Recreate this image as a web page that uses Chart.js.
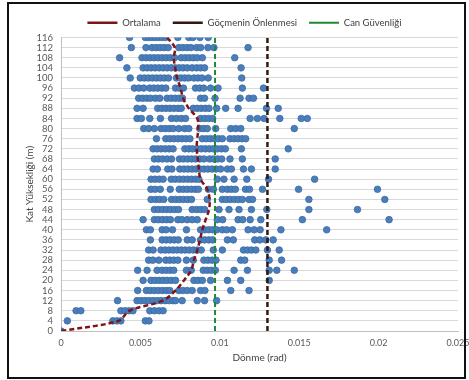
<!DOCTYPE html>
<html lang="tr">
<head>
<meta charset="UTF-8">
<title>Kat Yüksekliği - Dönme</title>
<style>
  body { margin: 0; background: #fff; }
  #wrap { width: 469px; height: 380px; }
</style>
</head>
<body>
<div id="wrap"><canvas id="myChart"></canvas></div>

<script src="https://cdn.jsdelivr.net/npm/chart.js@4.4.1/dist/chart.umd.min.js"></script>
<script>
// floor heights (m), top to bottom
const heights = [116, 112, 108, 104, 100, 96, 92, 88, 84, 80, 76, 72, 68, 64, 60,
                 56, 52, 48, 44, 40, 36, 32, 28, 24, 20, 16, 12, 8, 4, 0];

// rotation of each record at each height (rad), same order as heights
const rotations = [
  [0.00432, 0.00531, 0.00552, 0.00573, 0.00594, 0.00616, 0.00637, 0.00658, 0.00736, 0.00805, 0.00830, 0.00875, 0.00927],
  [0.00443, 0.00535, 0.00573, 0.00599, 0.00624, 0.00649, 0.00675, 0.00742, 0.00767, 0.00793, 0.00818, 0.00854, 0.00879, 0.00925, 0.00963, 0.01178],
  [0.00369, 0.00510, 0.00535, 0.00561, 0.00586, 0.00611, 0.00637, 0.00662, 0.00687, 0.00715, 0.00757, 0.00782, 0.00807, 0.00833, 0.00858, 0.00890, 0.01094],
  [0.00415, 0.00517, 0.00542, 0.00567, 0.00592, 0.00618, 0.00643, 0.00668, 0.00694, 0.00719, 0.00744, 0.00769, 0.00795, 0.00826, 0.00854, 0.00879, 0.00904, 0.01134],
  [0.00436, 0.00499, 0.00525, 0.00550, 0.00576, 0.00601, 0.00626, 0.00651, 0.00677, 0.00727, 0.00753, 0.00778, 0.00803, 0.00837, 0.00862, 0.00887, 0.00927, 0.01138],
  [0.00462, 0.00491, 0.00521, 0.00559, 0.00584, 0.00609, 0.00635, 0.00660, 0.00721, 0.00746, 0.00771, 0.00847, 0.00873, 0.00898, 0.00942, 0.00989, 0.01142, 0.01275],
  [0.00489, 0.00514, 0.00540, 0.00563, 0.00595, 0.00622, 0.00668, 0.00694, 0.00719, 0.00744, 0.00765, 0.00879, 0.00904, 0.00970, 0.01128, 0.01184, 0.01212],
  [0.00479, 0.00517, 0.00609, 0.00635, 0.00660, 0.00685, 0.00710, 0.00736, 0.00757, 0.00833, 0.00858, 0.00883, 0.00909, 0.00932, 0.00980, 0.01037, 0.01115, 0.01294, 0.01368],
  [0.00479, 0.00506, 0.00559, 0.00626, 0.00696, 0.00727, 0.00757, 0.00784, 0.00879, 0.00904, 0.00930, 0.00955, 0.01191, 0.01237, 0.01279, 0.01378, 0.01513, 0.01551],
  [0.00521, 0.00552, 0.00588, 0.00630, 0.00656, 0.00681, 0.00706, 0.00742, 0.00778, 0.00805, 0.00873, 0.00898, 0.00921, 0.00974, 0.01069, 0.01100, 0.01132, 0.01469],
  [0.00601, 0.00660, 0.00685, 0.00710, 0.00736, 0.00761, 0.00786, 0.00812, 0.00890, 0.00915, 0.00940, 0.00965, 0.00991, 0.01016, 0.01064, 0.01090, 0.01115, 0.01140, 0.01163],
  [0.00580, 0.00605, 0.00630, 0.00656, 0.00681, 0.00706, 0.00780, 0.00805, 0.00828, 0.00858, 0.00883, 0.00909, 0.00934, 0.00959, 0.00984, 0.01010, 0.01035, 0.01136, 0.01431],
  [0.00588, 0.00613, 0.00639, 0.00668, 0.00696, 0.00746, 0.00771, 0.00797, 0.00822, 0.00847, 0.00873, 0.00900, 0.00936, 0.00961, 0.00986, 0.01012, 0.01064, 0.01142, 0.01349],
  [0.00580, 0.00607, 0.00672, 0.00698, 0.00748, 0.00774, 0.00799, 0.00824, 0.00849, 0.00875, 0.00900, 0.00925, 0.00951, 0.00976, 0.01005, 0.01048, 0.01073, 0.01149, 0.01199, 0.01349],
  [0.00567, 0.00592, 0.00618, 0.00643, 0.00694, 0.00719, 0.00746, 0.00771, 0.00797, 0.00822, 0.00847, 0.00868, 0.00984, 0.01026, 0.01090, 0.01170, 0.01307, 0.01597],
  [0.00566, 0.00593, 0.00625, 0.00688, 0.00745, 0.00770, 0.00795, 0.00821, 0.00846, 0.00865, 0.00928, 0.00960, 0.01016, 0.01048, 0.01073, 0.01098, 0.01162, 0.01187, 0.01269, 0.01496, 0.01993],
  [0.00567, 0.00595, 0.00620, 0.00647, 0.00696, 0.00721, 0.00746, 0.00771, 0.00797, 0.00822, 0.00921, 0.01016, 0.01041, 0.01066, 0.01092, 0.01117, 0.01142, 0.01184, 0.01206, 0.01561, 0.02039],
  [0.00588, 0.00613, 0.00639, 0.00664, 0.00689, 0.00715, 0.00740, 0.00826, 0.00854, 0.00879, 0.00904, 0.00995, 0.01058, 0.01121, 0.01199, 0.01296, 0.01561, 0.01867],
  [0.00517, 0.00588, 0.00613, 0.00639, 0.00664, 0.00689, 0.00736, 0.00761, 0.00795, 0.00826, 0.00858, 0.00984, 0.01018, 0.01115, 0.01144, 0.01191, 0.01258, 0.01520, 0.02066],
  [0.00538, 0.00563, 0.00637, 0.00662, 0.00702, 0.00790, 0.00879, 0.00904, 0.00930, 0.00955, 0.00980, 0.01016, 0.01043, 0.01079, 0.01178, 0.01216, 0.01254, 0.01385, 0.01673],
  [0.00563, 0.00637, 0.00662, 0.00687, 0.00713, 0.00738, 0.00795, 0.00826, 0.00879, 0.00904, 0.00930, 0.00955, 0.01048, 0.01085, 0.01220, 0.01252, 0.01290, 0.01336],
  [0.00552, 0.00580, 0.00630, 0.00656, 0.00681, 0.00706, 0.00731, 0.00757, 0.00782, 0.00807, 0.00833, 0.00858, 0.00883, 0.00959, 0.01016, 0.01149, 0.01174, 0.01199, 0.01227, 0.01300, 0.01374],
  [0.00552, 0.00578, 0.00616, 0.00660, 0.00685, 0.00710, 0.00736, 0.00790, 0.00833, 0.00900, 0.00925, 0.00951, 0.00976, 0.01132, 0.01157, 0.01311, 0.01389],
  [0.00483, 0.00542, 0.00605, 0.00637, 0.00662, 0.00687, 0.00710, 0.00790, 0.00820, 0.00896, 0.00921, 0.00946, 0.00972, 0.01090, 0.01174, 0.01311, 0.01359, 0.01469],
  [0.00517, 0.00567, 0.00592, 0.00618, 0.00643, 0.00668, 0.00694, 0.00721, 0.00837, 0.00862, 0.00890, 0.00942, 0.01048, 0.01132, 0.01311],
  [0.00483, 0.00538, 0.00563, 0.00588, 0.00613, 0.00639, 0.00664, 0.00685, 0.00742, 0.00767, 0.00795, 0.00826, 0.00879, 0.00906, 0.01069, 0.01184],
  [0.00356, 0.00479, 0.00504, 0.00529, 0.00554, 0.00580, 0.00605, 0.00630, 0.00656, 0.00681, 0.00706, 0.00721, 0.00763, 0.00858, 0.00904, 0.00980],
  [0.00095, 0.00125, 0.00377, 0.00403, 0.00428, 0.00453, 0.00559, 0.00588, 0.00618, 0.00643],
  [0.00040, 0.00327, 0.00352, 0.00377, 0.00531, 0.00554],
  [0]
];

// "Ortalama" (mean) curve, same order as heights
const meanRotation = [0.00668, 0.00717, 0.00710, 0.00719, 0.00731, 0.00753, 0.00769, 0.00805,
                      0.00858, 0.00864, 0.00858, 0.00854, 0.00862, 0.00868, 0.00879, 0.00921,
                      0.00936, 0.00932, 0.00911, 0.00890, 0.00875, 0.00858, 0.00837, 0.00820,
                      0.00774, 0.00721, 0.00640, 0.00430, 0.00363, 0];

const collapseLimit = 0.013;    // Göçmenin Önlenmesi
const lifeSafetyLimit = 0.0097; // Can Güvenliği

const xTicks = [0, 0.005, 0.01, 0.015, 0.02, 0.025];
const xTickLabels = ['0', '0.005', '0.01', '0.015', '0.02', '0.025'];
const yMax = 116;
const yStep = 4;

const scatterPts = [];
heights.forEach((h, i) => {
  rotations[i].forEach(r => scatterPts.push({ x: r, y: h }));
});
const meanPts = heights.map((h, i) => ({ x: meanRotation[i], y: h }));

// black frame round the whole picture
const frame = {
  id: 'frame',
  afterDraw(chart) {
    const c = chart.ctx;
    c.save();
    c.strokeStyle = '#111';
    c.lineWidth = 2;
    c.strokeRect(8, 3, 457, 375);
    c.restore();
  }
};

const tickFont = { family: 'Lato', size: 9 };

const ctx = document.getElementById('myChart').getContext('2d');

const chart = new Chart(ctx, {
  type: 'scatter',
  data: {
    datasets: [
      {
        label: 'Ortalama',
        data: meanPts,
        showLine: true,
        borderColor: '#7f1416',
        backgroundColor: '#7f1416',
        borderWidth: 2.5,
        borderDash: [5, 3],
        pointRadius: 0,
        tension: 0.35,
        order: 1
      },
      {
        label: 'Göçmenin Önlenmesi',
        data: [{ x: collapseLimit, y: 0 }, { x: collapseLimit, y: yMax }],
        showLine: true,
        borderColor: '#33190d',
        backgroundColor: '#33190d',
        borderWidth: 2.5,
        borderDash: [5, 3],
        pointRadius: 0,
        order: 2
      },
      {
        label: 'Can Güvenliği',
        data: [{ x: lifeSafetyLimit, y: 0 }, { x: lifeSafetyLimit, y: yMax }],
        showLine: true,
        borderColor: '#1d8a35',
        backgroundColor: '#1d8a35',
        borderWidth: 2,
        borderDash: [5, 3],
        pointRadius: 0,
        order: 3
      },
      {
        label: 'veri',
        data: scatterPts,
        pointRadius: 3.3,
        backgroundColor: '#4a7ebb',
        borderColor: '#3c6ca6',
        borderWidth: 0.8,
        order: 10
      }
    ]
  },
  options: {
    responsive: true,
    maintainAspectRatio: false,
    animation: false,
    events: [],
    layout: { padding: { left: 21, right: 1, top: 6, bottom: 0 } },
    plugins: {
      tooltip: { enabled: false },
      legend: {
        position: 'top',
        labels: {
          filter: item => item.text !== 'veri',
          usePointStyle: true,
          pointStyle: 'line',
          pointStyleWidth: 30,
          boxHeight: 9,
          padding: 12,
          color: '#404040',
          font: { family: 'Lato', size: 9.5 }
        }
      }
    },
    scales: {
      x: {
        type: 'linear',
        min: 0,
        max: 0.025,
        afterBuildTicks: s => { s.ticks = xTicks.map(v => ({ value: v })); },
        afterFit: s => { s.height = 49; s.paddingRight = 11; },
        grid: { display: false, drawTicks: false },
        border: { display: true, color: '#bfbfbf' },
        ticks: {
          padding: 7,
          color: '#595959',
          font: tickFont,
          callback: v => xTickLabels[Math.round(v / 0.005)]
        },
        title: {
          display: true,
          text: 'Dönme (rad)',
          color: '#404040',
          font: { family: 'Lato', size: 10 },
          padding: { top: 4, bottom: 16 }
        }
      },
      y: {
        type: 'linear',
        min: 0,
        max: yMax,
        afterFit: s => { s.width = 40; s.paddingTop = 35; },
        grid: { color: '#d9d9d9', drawTicks: false },
        border: { display: true, color: '#bfbfbf' },
        ticks: {
          stepSize: yStep,
          autoSkip: false,
          padding: 8,
          color: '#595959',
          font: { family: 'Lato', size: 9.5 }
        },
        title: {
          display: true,
          text: 'Kat Yüksekliği (m)',
          color: '#404040',
          font: { family: 'Lato', size: 10 },
          padding: { top: 3, bottom: 0 }
        }
      }
    }
  },
  plugins: [frame]
});
</script>
</body>
</html>
